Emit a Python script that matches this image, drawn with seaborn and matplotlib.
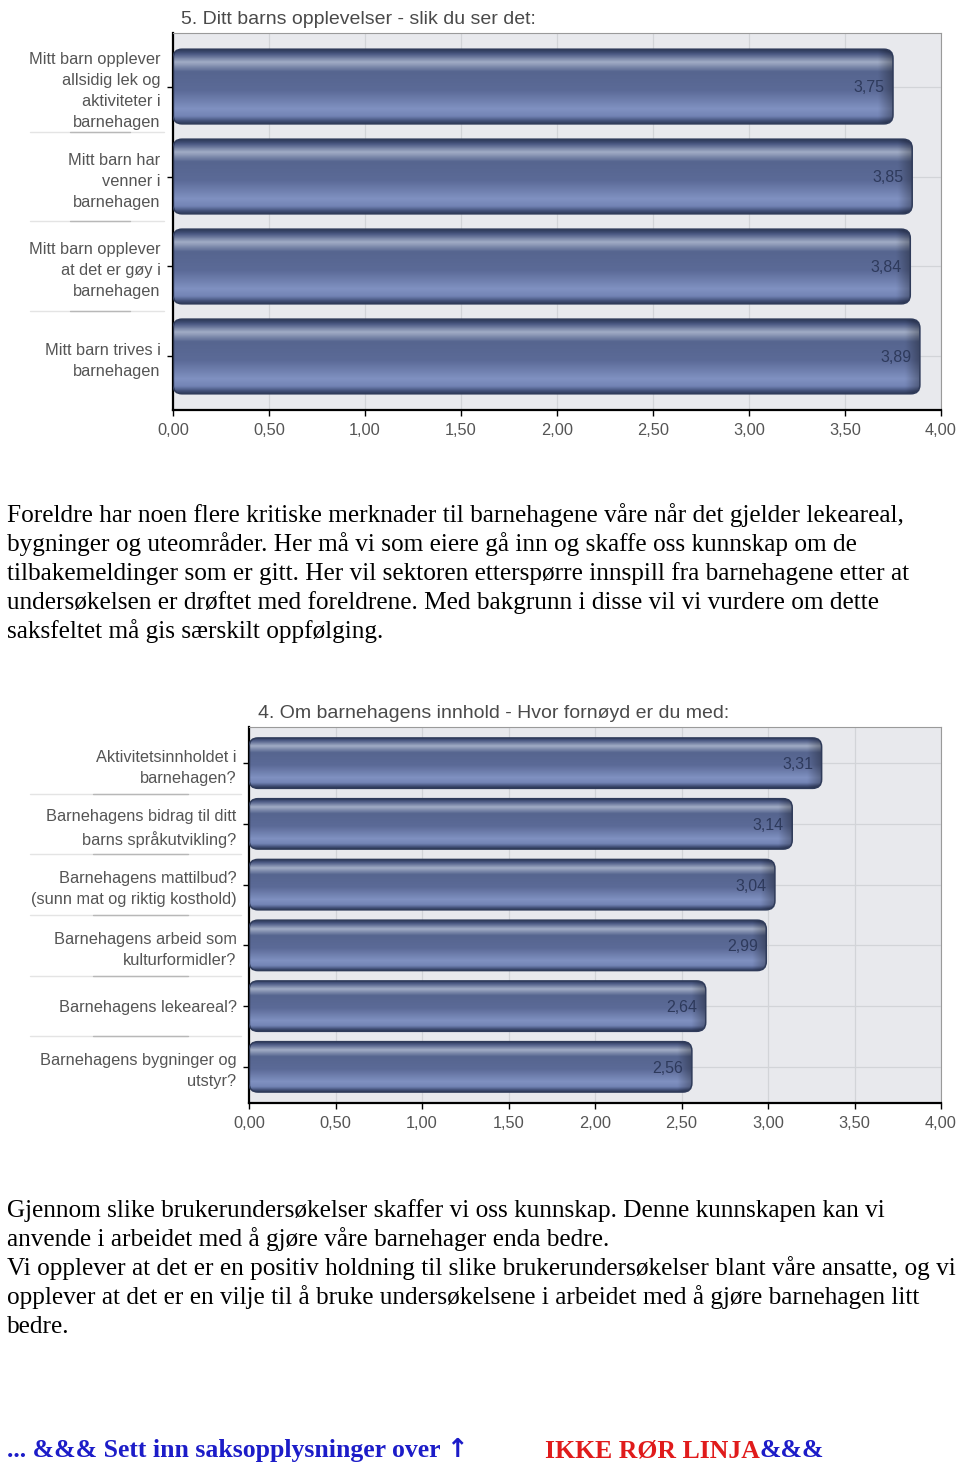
import numpy as np
import pandas as pd
import matplotlib
matplotlib.use("Agg")
import matplotlib.pyplot as plt
import seaborn as sns
from matplotlib.patches import FancyBboxPatch
from matplotlib.colors import LinearSegmentedColormap
import matplotlib.transforms as mtransforms

# ---------------- data ----------------
title1 = "5. Ditt barns opplevelser - slik du ser det:"
cats1 = [
    "Mitt barn opplever\nallsidig lek og\naktiviteter i\nbarnehagen",
    "Mitt barn har\nvenner i\nbarnehagen",
    "Mitt barn opplever\nat det er gøy i\nbarnehagen",
    "Mitt barn trives i\nbarnehagen",
]
vals1 = [3.75, 3.85, 3.84, 3.89]

title2 = "4. Om barnehagens innhold - Hvor fornøyd er du med:"
cats2 = [
    "Aktivitetsinnholdet i\nbarnehagen?",
    "Barnehagens bidrag til ditt\nbarns språkutvikling?",
    "Barnehagens mattilbud?\n(sunn mat og riktig kosthold)",
    "Barnehagens arbeid som\nkulturformidler?",
    "Barnehagens lekeareal?",
    "Barnehagens bygninger og\nutstyr?",
]
vals2 = [3.31, 3.14, 3.04, 2.99, 2.64, 2.56]

xticks = [0.0, 0.5, 1.0, 1.5, 2.0, 2.5, 3.0, 3.5, 4.0]
xticklabels = ["0,00", "0,50", "1,00", "1,50", "2,00", "2,50", "3,00", "3,50", "4,00"]

para1 = [
    "Foreldre har noen flere kritiske merknader til barnehagene våre når det gjelder lekeareal,",
    "bygninger og uteområder. Her må vi som eiere gå inn og skaffe oss kunnskap om de",
    "tilbakemeldinger som er gitt. Her vil sektoren etterspørre innspill fra barnehagene etter at",
    "undersøkelsen er drøftet med foreldrene. Med bakgrunn i disse vil vi vurdere om dette",
    "saksfeltet må gis særskilt oppfølging.",
]
para2 = [
    "Gjennom slike brukerundersøkelser skaffer vi oss kunnskap. Denne kunnskapen kan vi",
    "anvende i arbeidet med å gjøre våre barnehager enda bedre.",
    "Vi opplever at det er en positiv holdning til slike brukerundersøkelser blant våre ansatte, og vi",
    "opplever at det er en vilje til å bruke undersøkelsene i arbeidet med å gjøre barnehagen litt",
    "bedre.",
]
footer_blue = "... &&& Sett inn saksopplysninger over "
footer_arrow = "\u2191"
footer_red = "IKKE RØR LINJA"
footer_blue2 = "&&&"

# ---------------- style ----------------
sns.set_theme(style="ticks")
plt.rcParams['font.family'] = ['Liberation Sans', 'DejaVu Sans']
SERIF = ['Liberation Serif', 'DejaVu Serif']

W, H = 960, 1464
fig = plt.figure(figsize=(W / 100, H / 100), dpi=100)


def px_rect(left, top, right, bottom):
    return [left / W, 1 - bottom / H, (right - left) / W, (bottom - top) / H]


bar_stops = [(0.0, '#2c3857'), (0.06, '#4a5882'), (0.17, '#a2adc6'),
             (0.30, '#56658f'), (0.55, '#5b6a97'), (0.80, '#8091c1'),
             (0.90, '#7384b5'), (0.96, '#45537c'), (1.0, '#2c3857')]
bar_cmap = LinearSegmentedColormap.from_list('barg', bar_stops)
profile = bar_cmap(np.linspace(0, 1, 120))[:, :3]


def draw_chart(ax, cats, vals, ax_px, sep_left):
    df = pd.DataFrame({'cat': cats, 'val': vals})
    sns.barplot(data=df, y='cat', x='val', ax=ax, orient='h', width=0.83,
                color='#5a6892', saturation=1)
    n = len(cats)
    pad = 0.595
    ax.set_xlim(0, 4)
    ax.set_ylim(n - 1 + pad, -pad)
    width_px, height_px = ax_px
    ppx = width_px / 4.0
    ppy = height_px / (n - 1 + 2 * pad)
    r_px = 9
    r = r_px / ppx
    aspect = ppx / ppy
    for p in list(ax.patches):
        x0, y0, w, h = p.get_x(), p.get_y(), p.get_width(), p.get_height()
        p.set_visible(False)
        fb = FancyBboxPatch((x0, y0), w, h,
                            boxstyle=f"round,pad=0,rounding_size={r}",
                            mutation_aspect=aspect, facecolor='none',
                            edgecolor='#2f3b5a', linewidth=1.1, zorder=3)
        ax.add_patch(fb)
        cols = 400
        t = np.linspace(0, 1, cols)
        d = (1 - t) * w * ppx
        shade = 0.70 + 0.30 * np.clip(d / 14.0, 0, 1)
        img = profile[:, None, :] * shade[None, :, None]
        im = ax.imshow(img, extent=(x0, x0 + w, y0 + h, y0), origin='upper',
                       aspect='auto', zorder=2.5, interpolation='bilinear')
        im.set_clip_path(fb)
    ax.set_xlim(0, 4)
    ax.set_ylim(n - 1 + pad, -pad)
    for i, v in enumerate(vals):
        ax.annotate(f"{v:.2f}".replace('.', ','), xy=(v, i), xytext=(-6, -1),
                    textcoords='offset points', ha='right', va='center',
                    fontsize=11.5, color='#2e3a5c', zorder=4)
    ax.set_facecolor('#e8e9ed')
    ax.set_axisbelow(True)
    ax.grid(True, axis='both', color='#d2d4d8', linewidth=0.9)
    ax.set_xticks(xticks)
    ax.set_xticklabels(xticklabels)
    ax.set_xlabel('')
    ax.set_ylabel('')
    ax.tick_params(axis='both', direction='out', length=4, width=1,
                   color='black', labelsize=11.8, labelcolor='#555555',
                   bottom=True, left=True, pad=5)
    ax.tick_params(axis='x', pad=5.5)
    for lbl in ax.get_yticklabels():
        lbl.set_linespacing(1.5)
    for s in ['left', 'bottom']:
        ax.spines[s].set_color('black')
        ax.spines[s].set_linewidth(1.6)
    for s in ['top', 'right']:
        ax.spines[s].set_color('#9a9a9a')
        ax.spines[s].set_linewidth(0.8)
    trans = mtransforms.blended_transform_factory(ax.transAxes, ax.transData)
    for i in range(n - 1):
        y = i + 0.5
        ax.plot([sep_left, -0.012], [y, y], transform=trans, color='#e4e4e4',
                lw=1.0, clip_on=False)
        span = -0.012 - sep_left
        ax.plot([sep_left + 0.3 * span, sep_left + 0.75 * span], [y, y],
                transform=trans, color='#b8b8b8', lw=1.0, clip_on=False)


ax1 = fig.add_axes(px_rect(173, 33, 941, 410))
draw_chart(ax1, cats1, vals1, (768, 377), -0.186)
fig.text(181 / W, 1 - 20 / H, title1, ha='left', va='center',
         fontsize=14, color='#4a4a4a')

ax2 = fig.add_axes(px_rect(249, 727, 941, 1103))
draw_chart(ax2, cats2, vals2, (692, 376), -0.316)
fig.text(258 / W, 1 - 713 / H, title2, ha='left', va='center',
         fontsize=14, color='#4a4a4a')

# ---------------- body text ----------------
BODY = 18.2
for k, line in enumerate(para1):
    fig.text(7 / W, 1 - (522 + 29 * k) / H, line, ha='left', va='baseline',
             fontsize=BODY, family=SERIF, color='black')
for k, line in enumerate(para2):
    fig.text(7 / W, 1 - (1217 + 29 * k) / H, line, ha='left', va='baseline',
             fontsize=BODY, family=SERIF, color='black')

# ---------------- footer ----------------
FOOT = 18.5
fy = 1 - 1457 / H
renderer = fig.canvas.get_renderer()
tb = fig.text(7 / W, fy, footer_blue, ha='left', va='baseline', fontsize=FOOT,
              family=SERIF, weight='bold', color='#1c1cc8')
bb0 = tb.get_window_extent(renderer=renderer)
fig.text(bb0.x1 / W, fy, footer_arrow, ha='left', va='baseline', fontsize=FOOT,
         family=['DejaVu Sans'], weight='bold', color='#1c1cc8')
tr = fig.text(545 / W, fy, footer_red, ha='left', va='baseline', fontsize=FOOT,
              family=SERIF, weight='bold', color='#e01b1b')
bb = tr.get_window_extent(renderer=renderer)
fig.text(bb.x1 / W, fy, footer_blue2, ha='left', va='baseline', fontsize=FOOT,
         family=SERIF, weight='bold', color='#1c1cc8')

fig.savefig("out.png", dpi=100)
